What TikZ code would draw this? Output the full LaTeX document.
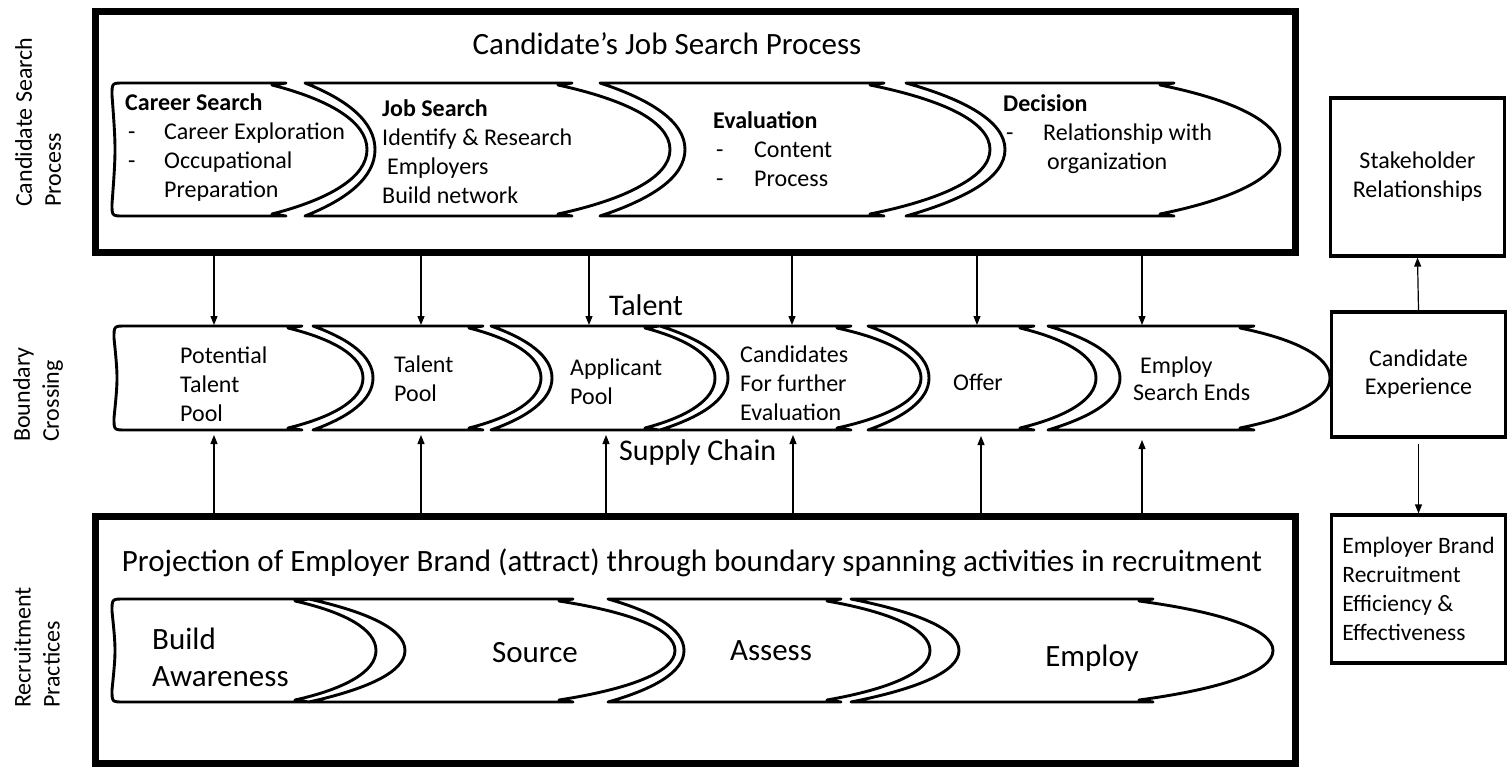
\documentclass[tikz,border=0pt]{standalone}
\usepackage{fontspec}
\setmainfont{Carlito}
\usetikzlibrary{arrows.meta}

% First chevron of a row: left x, top-right x, tip x, top y, bottom y
\newcommand\firstchev[5]{%
  \pgfmathsetmacro\cM{(#4+#5)/2}\pgfmathsetmacro\cH{(#5-#4)/2}%
  \pgfmathsetmacro\cA{#2+0.6*(#3-#2)}%
  \draw[chev] (#2+14,#4) -- (#2,#4+2)
    .. controls (\cA,#4+0.25*\cH) and (#3,\cM-0.42*\cH) .. (#3,\cM)
    .. controls (#3,\cM+0.42*\cH) and (\cA,#5-0.25*\cH) .. (#2,#5-2)
    -- (#2+14,#5) -- (#1+12,#5) .. controls (#1,#5) .. (#1,#5-12)
    .. controls (#1+4,\cM) .. (#1,#4+12) .. controls (#1,#4) .. (#1+12,#4) -- cycle;}

% Following chevron: notch top x, notch inner x, top-right x, tip x, top y, bottom y
\newcommand\nextchev[6]{%
  \pgfmathsetmacro\cM{(#5+#6)/2}\pgfmathsetmacro\cH{(#6-#5)/2}%
  \pgfmathsetmacro\cA{#3+0.6*(#4-#3)}\pgfmathsetmacro\cB{#1+0.6*(#2-#1)}%
  \draw[chev] (#1,#5) -- (#3+14,#5) -- (#3,#5+2)
    .. controls (\cA,#5+0.25*\cH) and (#4,\cM-0.42*\cH) .. (#4,\cM)
    .. controls (#4,\cM+0.42*\cH) and (\cA,#6-0.25*\cH) .. (#3,#6-2)
    -- (#3+14,#6) -- (#1,#6)
    .. controls (\cB,#6-0.25*\cH) and (#2,\cM+0.42*\cH) .. (#2,\cM)
    .. controls (#2,\cM-0.42*\cH) and (\cB,#5+0.25*\cH) .. cycle;}

\begin{document}
\begin{tikzpicture}[x=1pt,y=-1pt,
  chev/.style={line width=2.9pt, line join=round},
  bigbox/.style={draw, line width=7pt, inner sep=0pt, minimum width=1200pt},
  sidebox/.style={draw, line width=3.2pt, inner sep=0pt, minimum width=174pt},
  arr/.style={line width=1.2pt, -{Triangle[length=9pt,width=7pt]}},
  tx/.style={font=\fontsize{24}{29}\selectfont, inner sep=0pt, align=left, anchor=west},
  txm/.style={font=\fontsize{24}{29}\selectfont, inner sep=0pt},
  bigtx/.style={font=\fontsize{31}{37}\selectfont, inner sep=0pt},
  midtx/.style={font=\fontsize{30}{36}\selectfont, inner sep=0pt},
  rowlbl/.style={font=\fontsize{24}{29}\selectfont, rotate=90, align=left,
                 inner sep=0pt, anchor=north west},
]
\useasboundingbox (0,0) rectangle (1512,769);

% ---- row labels
\node[rowlbl] (lblA) at (15,207) {Candidate Search\\Process};
\node[rowlbl] (lblB) at (13,442) {Boundary\\Crossing};
\node[rowlbl] (lblC) at (14,708) {Recruitment\\Practices};

% ---- framed process bands
\node[bigbox, minimum height=241pt] (topbox) at (695,131.5) {};
\node[bigbox, minimum height=247pt] (botbox) at (695,639.5) {};
\node[bigtx] (toptitle) at (667,44) {Candidate’s Job Search Process};
\node[bigtx] (bottitle) at (692,563) {Projection of Employer Brand (attract) through boundary spanning activities in recruitment};

% ---- candidate's job search chevrons
\firstchev{112}{272}{367}{83}{216}
\nextchev{305}{375}{558}{670}{83}{216}
\nextchev{600}{685}{870}{990}{83}{216}
\nextchev{906}{1005}{1160}{1280}{83}{216}

\node[tx] (cs) at (125,148) {\textbf{Career Search}\\
  \hspace*{3pt}\makebox[36pt][l]{-}Career Exploration\\
  \hspace*{3pt}\makebox[36pt][l]{-}Occupational\\
  \hspace*{39pt}Preparation};
\node[tx] (js) at (382,151.5) {\textbf{Job Search}\\Identify \& Research\\\hspace*{5pt}Employers\\Build network};
\node[tx] (ev) at (713,149) {\textbf{Evaluation}\\
  \hspace*{3pt}\makebox[38pt][l]{-}Content\\
  \hspace*{3pt}\makebox[38pt][l]{-}Process};
\node[tx] (dc) at (1003,134) {\textbf{Decision}\\
  \hspace*{3pt}\makebox[37pt][l]{-}Relationship with\\
  \hspace*{44pt}organization};

% ---- boundary crossing chevrons
\firstchev{114}{288}{363}{326}{430}
\nextchev{313}{373}{469}{541}{326}{430}
\nextchev{491}{552}{645}{715}{326}{430}
\nextchev{660}{728}{837}{921}{326}{430}
\nextchev{868}{929}{1020}{1096}{326}{430}
\nextchev{1048}{1120}{1240}{1330}{326}{430}

\node[tx] (p1) at (180,384.5) {Potential\\Talent\\Pool};
\node[tx] (p2) at (394,379) {Talent\\Pool};
\node[tx] (p3) at (570,382) {Applicant\\Pool};
\node[tx] (p4) at (740,383.5) {Candidates\\For further\\Evaluation};
\node[txm] (p5) at (978,382) {Offer};
\node[tx, font=\fontsize{24}{27}\selectfont] (p6) at (1133,378.5) {\hspace*{7pt}Employ\\Search Ends};

\node[midtx] (talent) at (646,305) {Talent};
\node[midtx, anchor=west] (supply) at (619,452) {Supply Chain};

% ---- recruitment practice chevrons
\firstchev{112}{295}{376}{599}{702}
\nextchev{309}{405}{559}{675}{599}{702}
\nextchev{608}{684}{827}{930}{599}{702}
\nextchev{851}{959}{1139}{1273}{599}{702}

\node[bigtx, align=left, anchor=west] (r1) at (152,657.5) {Build\\Awareness};
\node[bigtx] (r2) at (535,653) {Source};
\node[bigtx] (r3) at (771,651) {Assess};
\node[bigtx] (r4) at (1092,658) {Employ};

% ---- outcome boxes
\node[sidebox, minimum height=158pt, align=center, font=\fontsize{24}{29}\selectfont] (sr) at (1417.5,177) {Stakeholder\\Relationships};
\node[sidebox, minimum height=125pt, align=center, font=\fontsize{24}{28}\selectfont] (ce) at (1418.5,374.5) {Candidate\\Experience};
\node[sidebox, minimum height=148pt, align=left, font=\fontsize{23.5}{29}\selectfont] (eb) at (1418.5,589) {Employer Brand\\Recruitment\\Efficiency \&\\Effectiveness};

% ---- connectors
\foreach \i/\x in {1/214,2/421,3/589,4/792,5/977,6/1142}{
  \coordinate (d\i) at (\x,325);
  \draw[arr] (topbox.south -| d\i) -- (d\i);
}
\foreach \i/\x/\y in {1/214/435,2/421/435,3/606/435,4/793/435,5/981/436,6/1142/440}{
  \coordinate (u\i) at (\x,\y);
  \draw[arr] (botbox.north -| u\i) -- (u\i);
}
\draw[arr] (ce.north) -- (sr.south);
\draw[arr] ([yshift=-5pt]ce.south) -- (eb.north);
\end{tikzpicture}
\end{document}
